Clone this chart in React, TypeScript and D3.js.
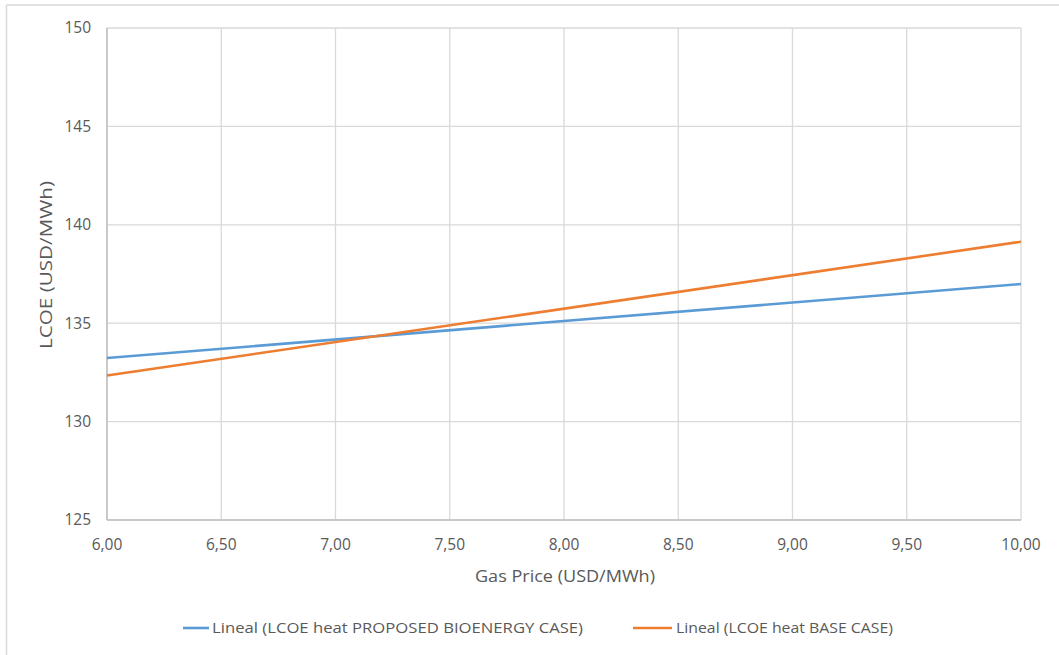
import React from "react";
import * as d3 from "d3";

// Gas price (USD/MWh) at which each linear trend is evaluated
const gasPrices = [6.0, 10.0];
// Linear trend of LCOE heat, proposed bioenergy case (USD/MWh)
const proposedBioenergy = [133.23, 136.99];
// Linear trend of LCOE heat, base case (USD/MWh)
const baseCase = [132.34, 139.14];

const xTicks = [6.0, 6.5, 7.0, 7.5, 8.0, 8.5, 9.0, 9.5, 10.0];
const yTicks = [125, 130, 135, 140, 145, 150];

const seriesNames = [
  "Lineal (LCOE heat PROPOSED BIOENERGY CASE)",
  "Lineal (LCOE heat BASE CASE)",
];
const seriesColors = ["#5b9bd5", "#ed7d31"];

const W = 1059;
const H = 655;
const margin = { left: 107, right: 1021, top: 28, bottom: 520 };
const FONT = "'Open Sans', 'Liberation Sans', sans-serif";
const TEXT = "#595959";

export default function App() {
  const x = d3.scaleLinear().domain([6, 10]).range([margin.left, margin.right]);
  const y = d3.scaleLinear().domain([125, 150]).range([margin.bottom, margin.top]);
  const line = d3
    .line<[number, number]>()
    .x((d) => x(d[0]))
    .y((d) => y(d[1]));

  const series = [proposedBioenergy, baseCase].map((vals) =>
    gasPrices.map((g, i) => [g, vals[i]] as [number, number])
  );

  const fmt = (v: number) => v.toFixed(2).replace(".", ",");

  const legendY = 628;
  const legendItems = [
    { x1: 183, x2: 209, tx: 212, tw: 371 },
    { x1: 633, x2: 672, tx: 676, tw: 217 },
  ];

  return (
    <svg
      width={W}
      height={H}
      style={{ position: "absolute", left: 0, top: 0, background: "#fff" }}
      fontFamily={FONT}
    >
      <rect x={0} y={0} width={W} height={H} fill="#fff" />
      {/* chart frame */}
      <line x1={6.5} x2={W} y1={5} y2={5} stroke="#d9d9d9" strokeWidth={1.5} />
      <line x1={6.5} x2={6.5} y1={5} y2={H} stroke="#d9d9d9" strokeWidth={1.5} />

      {/* gridlines */}
      {yTicks.map((t) => (
        <line
          key={"gy" + t}
          x1={margin.left}
          x2={margin.right}
          y1={y(t)}
          y2={y(t)}
          stroke="#d9d9d9"
          strokeWidth={1.3}
        />
      ))}
      {xTicks.map((t) => (
        <line
          key={"gx" + t}
          x1={x(t)}
          x2={x(t)}
          y1={margin.top}
          y2={margin.bottom}
          stroke="#d9d9d9"
          strokeWidth={1.3}
        />
      ))}
      {/* axis lines */}
      <line x1={margin.left} x2={margin.left} y1={margin.top} y2={margin.bottom} stroke="#bfbfbf" strokeWidth={1.5} />
      <line x1={margin.left} x2={margin.right} y1={margin.bottom} y2={margin.bottom} stroke="#bfbfbf" strokeWidth={1.5} />

      {/* tick labels */}
      {yTicks.map((t) => (
        <text
          key={"ty" + t}
          x={91}
          y={y(t)}
          dy="0.35em"
          textAnchor="end"
          fontSize={15.5}
          fill={TEXT}
        >
          {t}
        </text>
      ))}
      {xTicks.map((t) => (
        <text
          key={"tx" + t}
          x={x(t)}
          y={545}
          dy="0.35em"
          textAnchor="middle"
          fontSize={15.5}
          fill={TEXT}
        >
          {fmt(t)}
        </text>
      ))}

      {/* axis titles */}
      <text
        x={475}
        y={576}
        dy="0.35em"
        fontSize={16.5}
        fill={TEXT}
        textLength={180}
        lengthAdjust="spacingAndGlyphs"
      >
        Gas Price (USD/MWh)
      </text>
      <text
        transform={`translate(46,${349}) rotate(-90)`}
        dy="0.35em"
        fontSize={16.5}
        fill={TEXT}
        textLength={168}
        lengthAdjust="spacingAndGlyphs"
      >
        LCOE (USD/MWh)
      </text>

      {/* trend lines */}
      {series.map((s, i) => (
        <path
          key={"s" + i}
          d={line(s) || ""}
          fill="none"
          stroke={seriesColors[i]}
          strokeWidth={2.6}
        />
      ))}

      {/* legend */}
      {legendItems.map((it, i) => (
        <g key={"lg" + i}>
          <line
            x1={it.x1}
            x2={it.x2}
            y1={legendY}
            y2={legendY}
            stroke={seriesColors[i]}
            strokeWidth={2.6}
          />
          <text
            x={it.tx}
            y={legendY}
            dy="0.35em"
            fontSize={15}
            fill={TEXT}
            textLength={it.tw}
            lengthAdjust="spacingAndGlyphs"
          >
            {seriesNames[i]}
          </text>
        </g>
      ))}
    </svg>
  );
}
